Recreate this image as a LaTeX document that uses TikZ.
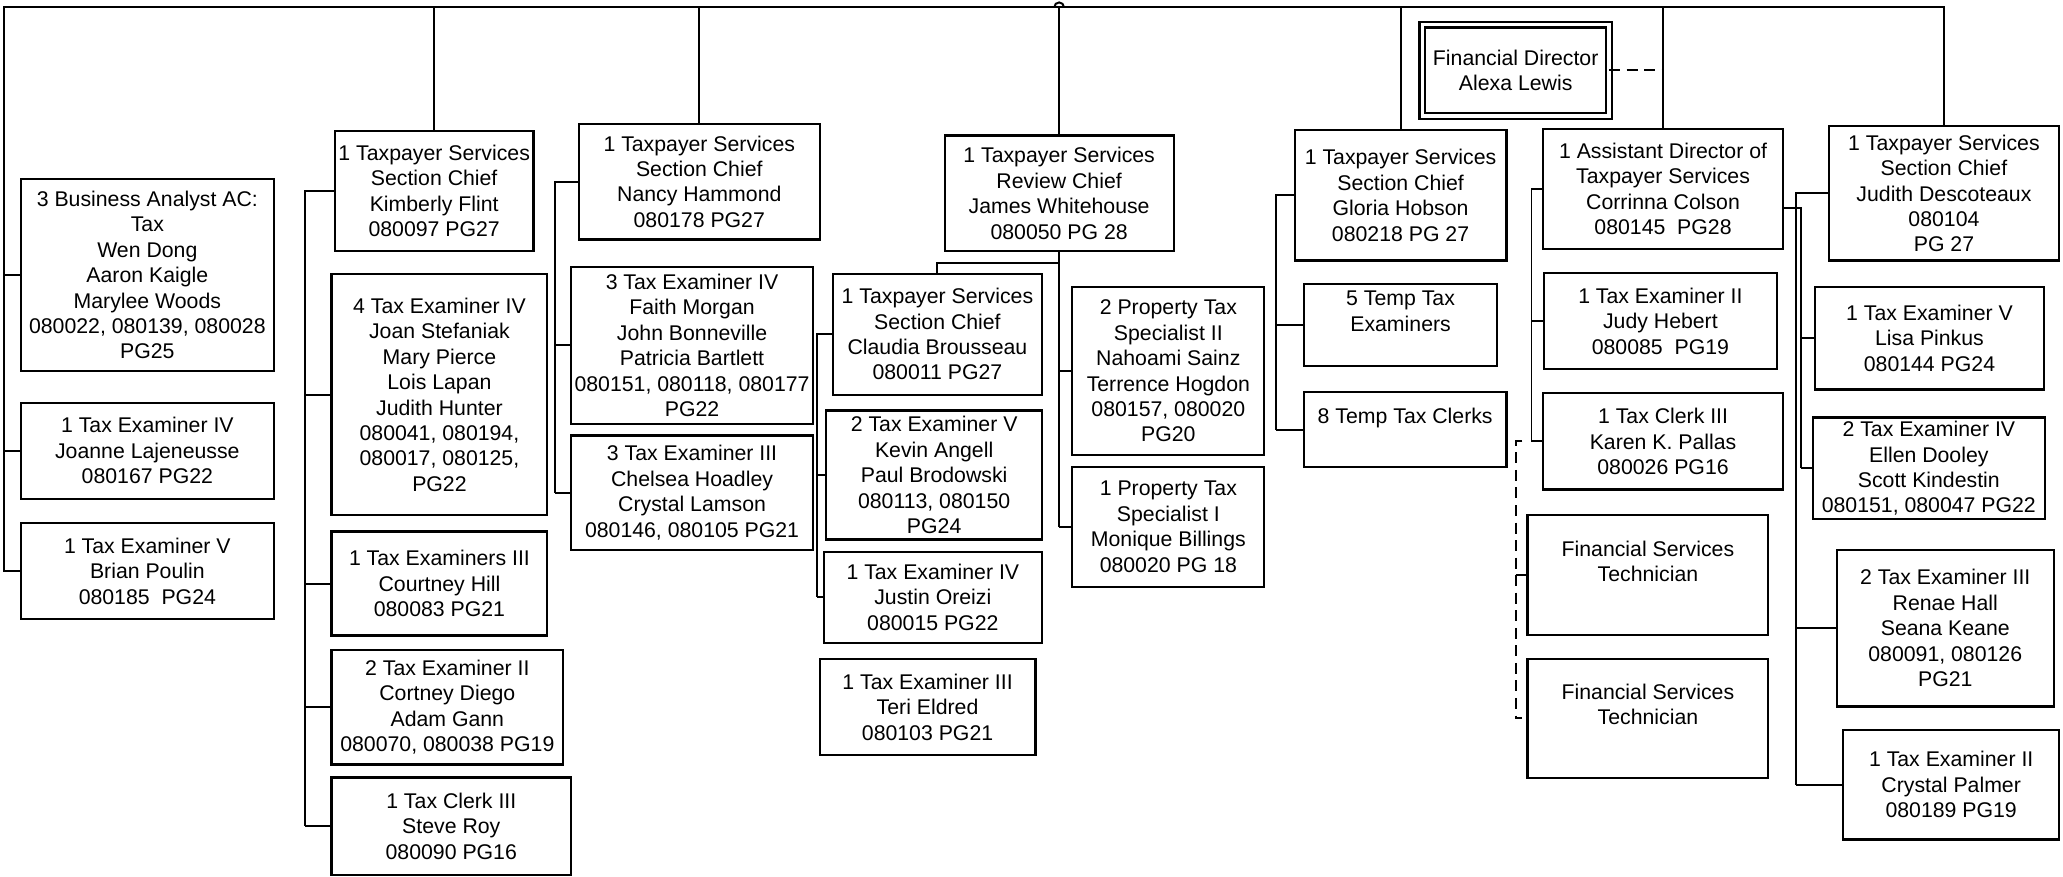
\documentclass[tikz,border=0pt]{standalone}
\usepackage{fontspec}
\setmainfont{Liberation Sans}
\newcommand{\pushup}{\rule[-12.6pt]{0pt}{12.6pt}}

\begin{document}
\begin{tikzpicture}
        [
            x=0.6pt, y=-0.6pt,
            box/.style={rectangle,draw=black,line width=1pt,inner sep=0pt,outer sep=0pt,align=center,font=\fontsize{9.7}{11.6}\selectfont},
            sz/.style 2 args={minimum width=#1*0.6pt,minimum height=#2*0.6pt},
            line/.style={draw=black,line width=0.9pt},
            dashline/.style={line,dash pattern=on 5pt off 3pt},
        ]
    \useasboundingbox (0,0) rectangle (1568,666);

    % bus points
    \coordinate (topL) at (2.7,5.5);
    \coordinate (topR) at (1477.5,5.5);
    \coordinate (kbus) at (232,0);
    \coordinate (nbus) at (422,0);
    \coordinate (cbus) at (621,0);
    \coordinate (jsplit) at (805,200);
    \coordinate (gbus) at (970,0);
    \coordinate (abus) at (1164,0);
    \coordinate (dbus) at (1152,0);
    \coordinate (dtop) at (1157,335.5);
    \coordinate (dbot) at (1157,546);
    \coordinate (jbus) at (1365,0);
    \coordinate (arbus) at (1369,158);

    % left column
    \node[box,sz={192}{146}] (ba) at (112,209) {3 Business Analyst AC:\\Tax\\Wen Dong\\Aaron Kaigle\\Marylee Woods\\080022, 080139, 080028\\PG25};
    \node[box,sz={192}{73}] (joanne) at (112,342.5) {1 Tax Examiner IV\\Joanne Lajeneusse\\080167 PG22};
    \node[box,sz={192}{73}] (brian) at (112,434) {1 Tax Examiner V\\Brian Poulin\\080185\ \ PG24};

    % Kimberly Flint
    \node[box,sz={151}{91}] (kimberly) at (330,145) {1 Taxpayer Services\\Section Chief\\Kimberly Flint\\080097 PG27};
    \node[box,sz={164}{183}] (joan) at (334,300) {4 Tax Examiner IV\\Joan Stefaniak\\Mary Pierce\\Lois Lapan\\Judith Hunter\\080041, 080194,\\080017, 080125,\\PG22};
    \node[box,sz={164}{79}] (courtney) at (334,443.5) {1 Tax Examiners III\\Courtney Hill\\080083 PG21};
    \node[box,sz={176}{87}] (cortney) at (340,537.5) {2 Tax Examiner II\\Cortney Diego\\Adam Gann\\080070, 080038 PG19};
    \node[box,sz={182}{74}] (steve) at (343,628) {1 Tax Clerk III\\Steve Roy\\080090 PG16};

    % Nancy Hammond
    \node[box,sz={183}{88}] (nancy) at (531.5,138) {1 Taxpayer Services\\Section Chief\\Nancy Hammond\\080178 PG27};
    \node[box,sz={184}{119}] (faith) at (526,262.5) {3 Tax Examiner IV\\Faith Morgan\\John Bonneville\\Patricia Bartlett\\080151, 080118, 080177\\PG22};
    \node[box,sz={184}{87}] (chelsea) at (526,374.5) {3 Tax Examiner III\\Chelsea Hoadley\\Crystal Lamson\\080146, 080105 PG21};

    % James Whitehouse
    \node[box,sz={174}{88}] (james) at (805,147) {1 Taxpayer Services\\Review Chief\\James Whitehouse\\080050 PG 28};
    \node[box,sz={159}{92}] (claudia) at (712.5,254) {1 Taxpayer Services\\Section Chief\\Claudia Brousseau\\080011 PG27};
    \node[box,sz={164}{98}] (kevin) at (710,361) {2 Tax Examiner V\\Kevin Angell\\Paul Brodowski\\080113, 080150\\PG24};
    \node[box,sz={166}{69}] (justin) at (709,454) {1 Tax Examiner IV\\Justin Oreizi\\080015 PG22};
    \node[box,sz={164}{73}] (teri) at (705,537.5) {1 Tax Examiner III\\Teri Eldred\\080103 PG21};
    \node[box,sz={146}{128}] (prop2) at (888,282) {2 Property Tax\\Specialist II\\Nahoami Sainz\\Terrence Hogdon\\080157, 080020\\PG20};
    \node[box,sz={146}{91}] (prop1) at (888,400.5) {1 Property Tax\\Specialist I\\Monique Billings\\080020 PG 18};

    % Gloria Hobson
    \node[box,sz={161}{99}] (gloria) at (1064.5,148.5) {1 Taxpayer Services\\Section Chief\\Gloria Hobson\\080218 PG 27};
    \node[box,sz={147}{62}] (temptax) at (1064.5,247) {5 Temp Tax\\Examiners\pushup};
    \node[box,sz={154}{57}] (tempclerk) at (1068,326.5) {8 Temp Tax Clerks\pushup};

    % Financial Director and Corrinna Colson
    \node[box,double,double distance=1.6pt,sz={142}{69.6}] (findir) at (1152,53.5) {Financial Director\\Alexa Lewis};
    \node[box,sz={182.5}{91}] (ad) at (1264,143.5) {1 Assistant Director of\\Taxpayer Services\\Corrinna Colson\\080145\ \ PG28};
    \node[box,sz={177.5}{73}] (judy) at (1262,244) {1 Tax Examiner II\\Judy Hebert\\080085\ \ PG19};
    \node[box,sz={182}{73}] (karen) at (1264,335.5) {1 Tax Clerk III\\Karen K. Pallas\\080026 PG16};
    \node[box,sz={183}{91}] (fs1) at (1252.5,437) {Financial Services\\Technician\pushup};
    \node[box,sz={183}{90.5}] (fs2) at (1252.5,546) {Financial Services\\Technician\pushup};

    % Judith Descoteaux
    \node[box,sz={175}{102}] (judith) at (1477.5,147) {1 Taxpayer Services\\Section Chief\\Judith Descoteaux\\080104\\PG 27};
    \node[box,sz={174}{78}] (lisa) at (1466.5,257) {1 Tax Examiner V\\Lisa Pinkus\\080144 PG24};
    \node[box,sz={176}{77.5}] (ellen) at (1466,356) {2 Tax Examiner IV\\Ellen Dooley\\Scott Kindestin\\080151, 080047 PG22};
    \node[box,sz={165}{119}] (renae) at (1478.5,477.5) {2 Tax Examiner III\\Renae Hall\\Seana Keane\\080091, 080126\\PG21};
    \node[box,sz={164}{83}] (crystal) at (1483,596.5) {1 Tax Examiner II\\Crystal Palmer\\080189 PG19};

    % top line
    \draw[line] (brian.west) -| (topL) -- (topR) -- (judith.north);
    \foreach \n in {ba,joanne}
        \draw[line] (topL |- \n.west) -- (\n.west);
    \foreach \n in {kimberly,nancy,james,gloria,ad}
        \draw[line] (\n.north) -- (\n.north |- topL);
    \coordinate (hop) at (james.north |- topL);
    \draw[line] ([xshift=-2.2pt]hop) arc[start angle=180,end angle=0,radius=2.2pt];

    % side buses
    \draw[line] (kimberly.west) -- (kbus |- kimberly.west) -- (kbus |- steve.west);
    \foreach \n in {joan,courtney,cortney,steve}
        \draw[line] (kbus |- \n.west) -- (\n.west);
    \draw[line] (nancy.west) -- (nbus |- nancy.west) -- (nbus |- chelsea.west);
    \foreach \n in {faith,chelsea}
        \draw[line] (nbus |- \n.west) -- (\n.west);
    \draw[line] (james.south) -- (james.south |- prop1.west);
    \foreach \n in {prop2,prop1}
        \draw[line] (james.south |- \n.west) -- (\n.west);
    \draw[line] (jsplit) -| (claudia.north);
    \draw[line] (claudia.west) -- (cbus |- claudia.west) -- (cbus |- justin.west);
    \foreach \n in {kevin,justin}
        \draw[line] (cbus |- \n.west) -- (\n.west);
    \draw[line] (gloria.west) -- (gbus |- gloria.west) -- (gbus |- tempclerk.west);
    \foreach \n in {temptax,tempclerk}
        \draw[line] (gbus |- \n.west) -- (\n.west);

    \draw[dashline] (findir.east) -- (findir.east -| ad.north);
    \draw[line] (ad.west) -- (abus |- ad.west) -- (abus |- karen.west);
    \foreach \n in {judy,karen}
        \draw[line] (abus |- \n.west) -- (\n.west);
    \draw[dashline] (dtop) -| (dbus |- dbot) -- (dbot);
    \draw[dashline] (dbus |- fs1.west) -- (fs1.west);

    \draw[line] (ad.east |- arbus) -- (arbus) -- (arbus |- ellen.west);
    \foreach \n in {lisa,ellen}
        \draw[line] (arbus |- \n.west) -- (\n.west);
    \draw[line] (judith.west) -- (jbus |- judith.west) -- (jbus |- crystal.west);
    \foreach \n in {renae,crystal}
        \draw[line] (jbus |- \n.west) -- (\n.west);
\end{tikzpicture}
\end{document}
